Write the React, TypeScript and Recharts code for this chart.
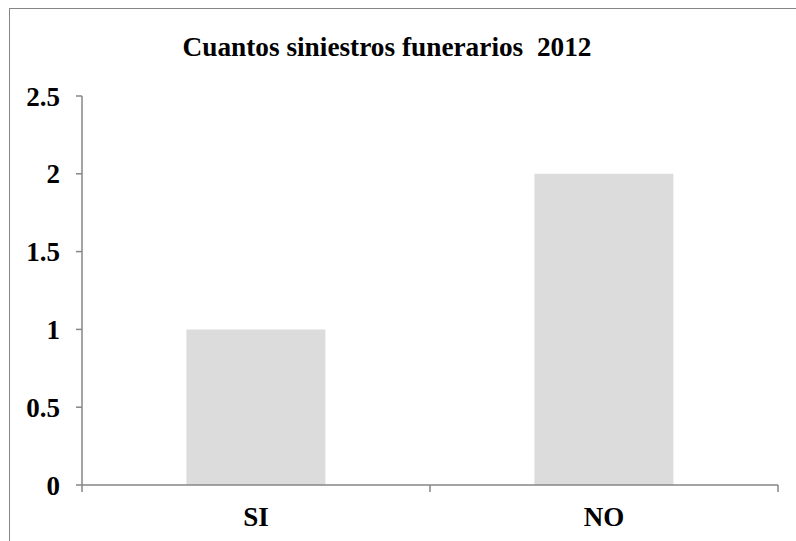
import React from 'react';
import { BarChart, Bar, XAxis, YAxis } from 'recharts';

const categories = ['SI', 'NO'];
const siniestros = [1, 2];
const yTicks = [0, 0.5, 1, 1.5, 2, 2.5];

const data = categories.map((name, i) => ({ name, value: siniestros[i] }));

const AXIS = '#868686';
const FONT = "'Liberation Serif', 'Times New Roman', serif";
const X_TICK_SIZE = 7;
const X_TICK_MARGIN = 15;

// category labels plus tick marks on the band edges (Excel style)
const CategoryTick = (props: any) => {
    const { x, y, payload, index, visibleTicksCount } = props;
    const half = payload.offset || 0;
    const axisY = y - X_TICK_SIZE - X_TICK_MARGIN;
    const isLast = index === visibleTicksCount - 1;
    return (
        <g>
            <line x1={x - half} x2={x - half} y1={axisY} y2={axisY + X_TICK_SIZE} stroke={AXIS} strokeWidth={1.5} />
            {isLast && (
                <line x1={x + half} x2={x + half} y1={axisY} y2={axisY + X_TICK_SIZE} stroke={AXIS} strokeWidth={1.5} />
            )}
            <text x={x} y={y} dy="0.71em" textAnchor="middle" fill="#000" style={{ fontFamily: FONT, fontWeight: 700, fontSize: 27 }}>
                {payload.value}
            </text>
        </g>
    );
};

export default function App() {
    return (
        <div style={{ position: 'absolute', left: 0, top: 0, width: 796, height: 541, overflow: 'hidden', background: '#fff' }}>
            <div
                style={{
                    position: 'absolute',
                    left: 9,
                    top: 8,
                    width: 820,
                    height: 580,
                    borderLeft: `1.5px solid ${AXIS}`,
                    borderTop: `1.5px solid ${AXIS}`,
                }}
            />
            <div
                style={{
                    position: 'absolute',
                    left: 0,
                    width: 774,
                    top: 32,
                    textAlign: 'center',
                    fontFamily: FONT,
                    fontWeight: 700,
                    fontSize: 27.3,
                    whiteSpace: 'pre',
                }}
            >
                {'Cuantos siniestros funerarios  2012'}
            </div>
            <div style={{ position: 'absolute', left: 0, top: 0 }}>
                <BarChart
                    width={796}
                    height={541}
                    data={data}
                    margin={{ top: 96, right: 18, bottom: 0, left: 0 }}
                    barCategoryGap="30%"
                >
                    <XAxis
                        dataKey="name"
                        height={56}
                        axisLine={{ stroke: AXIS, strokeWidth: 1.5 }}
                        tickLine={false}
                        tickSize={X_TICK_SIZE}
                        tickMargin={X_TICK_MARGIN}
                        tick={<CategoryTick />}
                        interval={0}
                    />
                    <YAxis
                        width={82}
                        domain={[0, 2.5]}
                        ticks={yTicks}
                        interval={0}
                        axisLine={{ stroke: AXIS, strokeWidth: 1.5 }}
                        tickLine={{ stroke: AXIS, strokeWidth: 1.5 }}
                        tickSize={6}
                        tickMargin={16}
                        tick={{ fill: '#000', style: { fontFamily: FONT, fontWeight: 700, fontSize: 27 } }}
                    />
                    <Bar dataKey="value" fill="#DCDCDC" isAnimationActive={false} />
                </BarChart>
            </div>
        </div>
    );
}
